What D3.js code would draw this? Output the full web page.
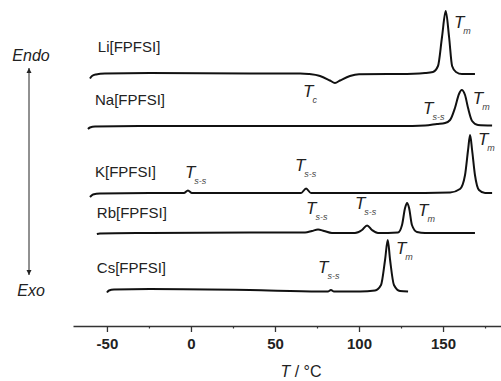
<!DOCTYPE html>
<html>
<head>
<meta charset="utf-8">
<script src="https://cdn.jsdelivr.net/npm/d3@7"></script>
<style>
  body { margin: 0; background: #fff; }
  svg { display: block; font-family: Arial, "Liberation Sans", sans-serif; }
</style>
</head>
<body>
<svg id="chart" width="501" height="381"></svg>
<script>
// ==================== DATA ====================
// DSC traces: [temperature °C, heat flow relative to trace baseline (a.u., endo up)]
const samples = ["Li[FPFSI]", "Na[FPFSI]", "K[FPFSI]", "Rb[FPFSI]", "Cs[FPFSI]"];
const offsets = [25.3, 20.0, 13.3, 9.3, 3.7];

const liTrace = [
  [-60.1, -0.55], [-58.9, -0.3], [-56.5, -0.15], [-51.2, -0.05], [-24.4, 0], [35, -0.05],
  [65, -0.05], [70, -0.1], [76.8, -0.3], [82.7, -0.75], [85.7, -1.0], [88.7, -0.75],
  [94.6, -0.3], [100, -0.12], [124.4, -0.1], [139.3, 0], [144, 0.1], [147, 0.7],
  [149.4, 3.6], [151.6, 6.2], [153.6, 3.6], [155.4, 0.7], [157.7, 0.1], [161.3, -0.1],
  [169, -0.1]
];
const naTrace = [
  [-61.3, -0.3], [-60.1, -0.15], [-57.1, -0.05], [-24.4, 0], [64.9, 0], [124.4, 0],
  [139.3, 0.05], [146.4, 0.2], [151.2, 0.3], [154.2, 0.6], [157.1, 1.8], [159.5, 3.2],
  [161.1, 3.6], [163.1, 3.1], [164.9, 1.8], [167.3, 0.5], [170.8, 0.1], [179.2, 0.05]
];
const kTrace = [
  [-60.1, -0.4], [-58.3, -0.15], [-54.2, -0.05], [-24.4, 0], [-4.2, 0], [-1.8, 0.25],
  [0.6, 0], [35, 0], [65.5, 0], [68.5, 0.45], [71.4, 0], [124.4, 0], [154.2, 0.05],
  [160.1, 0.4], [163.1, 1.8], [164.9, 4.3], [166.1, 5.8], [167.3, 4.3], [169, 1.8],
  [171.4, 0.3], [175, 0], [179.2, 0]
];
const rbTrace = [
  [-56, -0.1], [-54.2, -0.05], [-24.4, 0], [35, 0.05], [67.9, 0.05], [72, 0.2],
  [75.6, 0.35], [79.2, 0.2], [83.9, 0], [97.6, 0], [101.8, 0.3], [104.8, 0.75],
  [107.7, 0.3], [111.3, 0], [123.2, 0.05], [125.6, 0.8], [127.4, 2.5], [128.6, 3.0],
  [129.8, 2.5], [131.5, 0.8], [134.5, 0.1], [139.3, 0], [169, 0]
];
const csTrace = [
  [-50, -0.35], [-48.8, -0.15], [-45.8, -0.05], [-24.4, 0], [35, -0.1], [76.2, -0.25],
  [81.5, -0.25], [83.3, -0.1], [85.1, -0.25], [100.6, -0.25], [109.5, -0.15],
  [113.1, 0.4], [115.5, 2.9], [117.1, 4.9], [118.5, 2.9], [120.8, 0.4], [124.4, -0.2],
  [129.2, -0.25]
];
const traces = [liTrace, naTrace, kTrace, rbTrace, csTrace];

// sample label anchors [°C, a.u.]
const sampleLabelPos = [[-55.4, 27.9], [-57.1, 22.6], [-57.1, 15.4], [-56, 11.3], [-56, 5.8]];

// transition labels: [subscript, °C, a.u.]
const transitions = [
  ["m", 156.5, 30.4], ["c", 66.7, 23.5],
  ["s-s", 138.1, 21.8], ["m", 167.7, 22.8],
  ["s-s", -3.6, 15.4], ["s-s", 61.9, 16.1], ["m", 170.8, 18.7],
  ["s-s", 68.5, 11.8], ["s-s", 97.6, 12.3], ["m", 135.1, 11.6],
  ["s-s", 75.6, 5.9], ["m", 122, 7.8]
];

const majorTicks = [-50, 0, 50, 100, 150];
const minorTicks = [-25, 25, 75, 125, 175];

// ==================== SCALES ====================
const svg = d3.select("#chart");
const x = d3.scaleLinear().domain([-70.2, 184.5]).range([73, 501]);
const y = d3.scaleLinear().domain([0, 32.6]).range([326, 0]);

// ==================== TRACES ====================
const line = d3.line()
  .x((d) => x(d[0]))
  .y((d) => y(d[1]))
  .curve(d3.curveMonotoneX);

traces.forEach((tr, i) => {
  svg.append("path")
    .datum(tr.map((d) => [d[0], d[1] + offsets[i]]))
    .attr("fill", "none")
    .attr("stroke", "#111")
    .attr("stroke-width", 2)
    .attr("stroke-linejoin", "round")
    .attr("d", line);

  svg.append("text")
    .attr("x", x(sampleLabelPos[i][0]))
    .attr("y", y(sampleLabelPos[i][1]))
    .attr("dy", "0.35em")
    .attr("font-size", 15)
    .attr("fill", "#222")
    .text(samples[i]);
});

// transition labels (T + subscript)
transitions.forEach((t) => {
  const txt = svg.append("text")
    .attr("x", x(t[1]))
    .attr("y", y(t[2]))
    .attr("dy", "0.35em")
    .attr("fill", "#222");
  txt.append("tspan")
    .attr("font-size", 17)
    .attr("font-style", "italic")
    .text("T");
  txt.append("tspan")
    .attr("dx", -1)
    .attr("dy", 6)
    .attr("font-size", 9)
    .attr("font-style", "italic")
    .attr("fill", "#444")
    .text(t[0]);
});

// ==================== AXIS ====================
const axisG = svg.append("g").attr("transform", `translate(0,${y(0)})`);
axisG.call(
  d3.axisBottom(x)
    .tickValues(majorTicks)
    .tickSize(6)
    .tickSizeOuter(0)
    .tickPadding(6)
    .tickFormat((d) => String(d))
);
axisG.select(".domain").attr("stroke", "#333").attr("stroke-width", 1.3);
axisG.selectAll(".tick line").attr("stroke", "#333").attr("stroke-width", 1.3);
axisG.selectAll(".tick text")
  .attr("font-size", 15)
  .attr("font-weight", "bold")
  .attr("fill", "#222")
  .attr("font-family", "Arial, 'Liberation Sans', sans-serif");

const minorG = svg.append("g").attr("transform", `translate(0,${y(0)})`);
minorG.call(d3.axisBottom(x).tickValues(minorTicks).tickSize(2.5).tickFormat(""));
minorG.select(".domain").remove();
minorG.selectAll(".tick line").attr("stroke", "#333").attr("stroke-width", 1.2);

// axis title
const title = svg.append("text")
  .attr("x", 301)
  .attr("y", 377)
  .attr("text-anchor", "middle")
  .attr("font-size", 16)
  .attr("fill", "#222");
title.append("tspan").attr("font-style", "italic").text("T");
title.append("tspan").text(" / °C");

// ==================== ENDO / EXO ARROW ====================
svg.append("defs").append("marker")
  .attr("id", "head")
  .attr("viewBox", "0 0 10 10")
  .attr("refX", 10).attr("refY", 5)
  .attr("markerWidth", 5).attr("markerHeight", 7)
  .attr("markerUnits", "userSpaceOnUse")
  .attr("orient", "auto-start-reverse")
  .append("path")
  .attr("d", "M0,0 L10,5 L0,10 Z")
  .attr("fill", "#222");

svg.append("line")
  .attr("x1", 29).attr("y1", 68)
  .attr("x2", 29).attr("y2", 275)
  .attr("stroke", "#222")
  .attr("stroke-width", 1)
  .attr("marker-start", "url(#head)")
  .attr("marker-end", "url(#head)");

svg.append("text")
  .attr("x", 31).attr("y", 61)
  .attr("text-anchor", "middle")
  .attr("font-size", 16)
  .attr("font-style", "italic")
  .attr("fill", "#222")
  .text("Endo");
svg.append("text")
  .attr("x", 31).attr("y", 296)
  .attr("text-anchor", "middle")
  .attr("font-size", 16)
  .attr("font-style", "italic")
  .attr("fill", "#222")
  .text("Exo");
</script>
</body>
</html>
